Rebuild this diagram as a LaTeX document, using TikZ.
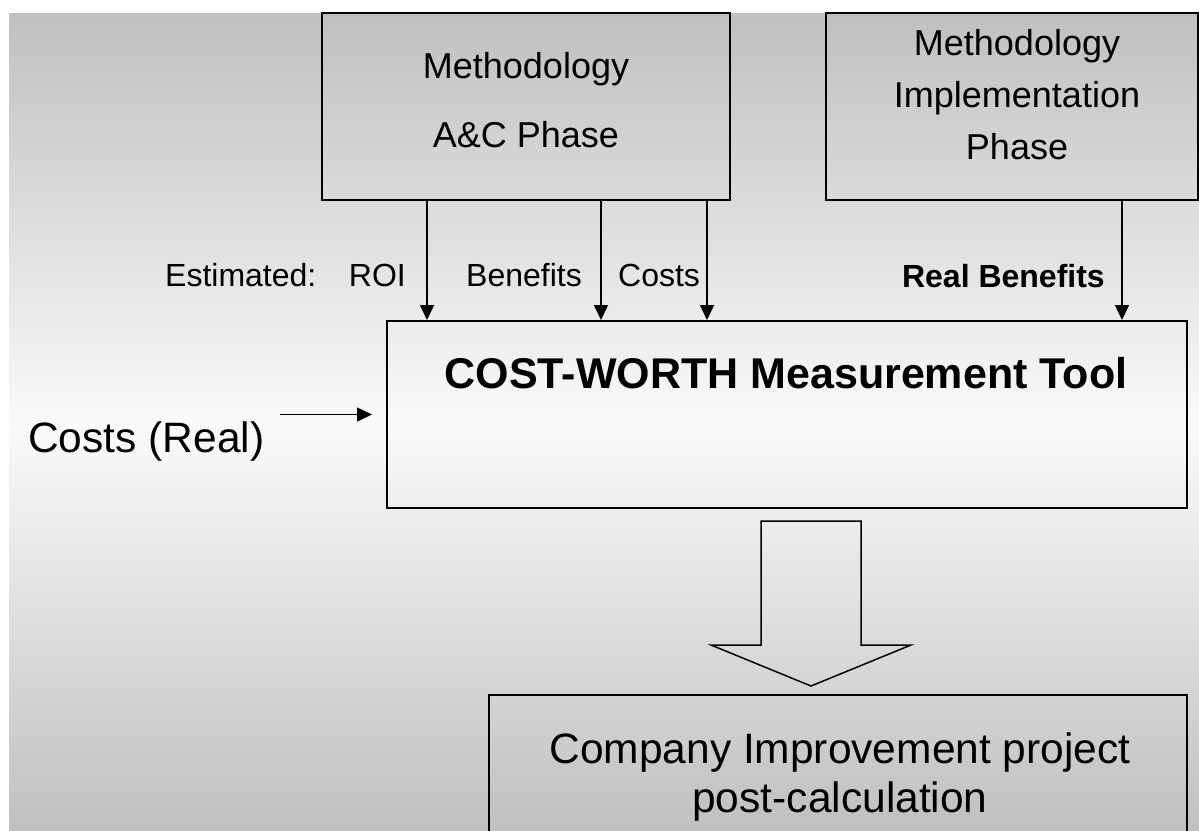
\documentclass[tikz,border=0pt]{standalone}
\usepackage{fontspec}
\setmainfont{Liberation Sans}
\usetikzlibrary{arrows.meta}
\definecolor{bgdark}{RGB}{192,192,192}
\definecolor{bglight}{RGB}{250,250,250}
\begin{document}
\begin{tikzpicture}[x=1pt,y=-1pt,
  box/.style={draw=black, line width=2pt, inner sep=0pt},
  txt/.style={inner sep=0pt, font=\fontsize{36}{40}\selectfont},
  lbl/.style={inner sep=0pt, font=\fontsize{32}{36}\selectfont},
  lblbold/.style={inner sep=0pt, font=\fontsize{32}{36}\selectfont\bfseries},
  big/.style={inner sep=0pt, font=\fontsize{42.5}{48}\selectfont},
  bigbold/.style={inner sep=0pt, font=\fontsize{43}{48}\selectfont\bfseries},
  feed/.style={line width=1.5pt, -{Triangle[length=15pt,width=14pt]}},
]
\useasboundingbox (0,0) rectangle (1199,830);
\clip (0,0) rectangle (1199,830);

% background: grey fading to near white in the middle and back to grey
\shade[top color=bgdark, bottom color=bglight] (9,13) rectangle (1199,425);
\shade[top color=bglight, bottom color=bgdark] (9,425) rectangle (1199,830);

% boxes
\node[box, minimum width=408pt, minimum height=187pt] (ac) at (526,106.5) {};
\node[box, minimum width=372pt, minimum height=187pt] (impl) at (1012,106.5) {};
\node[box, minimum width=800pt, minimum height=187pt] (tool) at (787,414.5) {};
\node[box, minimum width=698pt, minimum height=150pt] (res) at (838,770) {};

% box texts
\node[txt, anchor=base] (acA) at (526,78) {Methodology};
\node[txt, anchor=base] (acB) at (526,147) {A\&C Phase};
\node[txt, anchor=base] (imA) at (1017,55) {Methodology};
\node[txt, anchor=base] (imB) at (1017,107) {Implementation};
\node[txt, anchor=base] (imC) at (1017,159) {Phase};
\node[bigbold, anchor=base] (toolT) at (786,388) {COST-WORTH Measurement Tool};
\node[big, anchor=base] (resA) at (840,763) {Company Improvement project};
\node[big, anchor=base] (resB) at (840,812) {post-calculation};

% flow labels
\node[lbl, anchor=base west] (est) at (165,286) {Estimated:};
\node[lbl, anchor=base east] (roi) at (406,286) {ROI};
\node[lbl, anchor=base west] (ben) at (466,286) {Benefits};
\node[lbl, anchor=base west] (cst) at (618,286) {Costs};
\node[lblbold, anchor=base east] (rben) at (1105,287) {Real Benefits};
\node[big, anchor=base west] (cr) at (28,452) {Costs (Real)};

% arrow columns
\coordinate (xroi) at (427,0);
\coordinate (xben) at (601,0);
\coordinate (xcst) at (707,0);
\coordinate (xrb) at (1122,0);

\draw[feed] (xroi |- ac.south) -- (xroi |- tool.north);
\draw[feed] (xben |- ac.south) -- (xben |- tool.north);
\draw[feed] (xcst |- ac.south) -- (xcst |- tool.north);
\draw[feed] (xrb |- impl.south) -- (xrb |- tool.north);
\draw[feed, shorten <=15pt, shorten >=14pt] (cr.east |- tool.west) -- (tool.west);

% hollow block arrow from the tool to the result
\draw[line width=1.5pt, line join=miter]
  (761,521) -- (861,521) -- (861,645) -- (911,645) -- (811,686)
  -- (711,645) -- (761,645) -- cycle;
\end{tikzpicture}
\end{document}
